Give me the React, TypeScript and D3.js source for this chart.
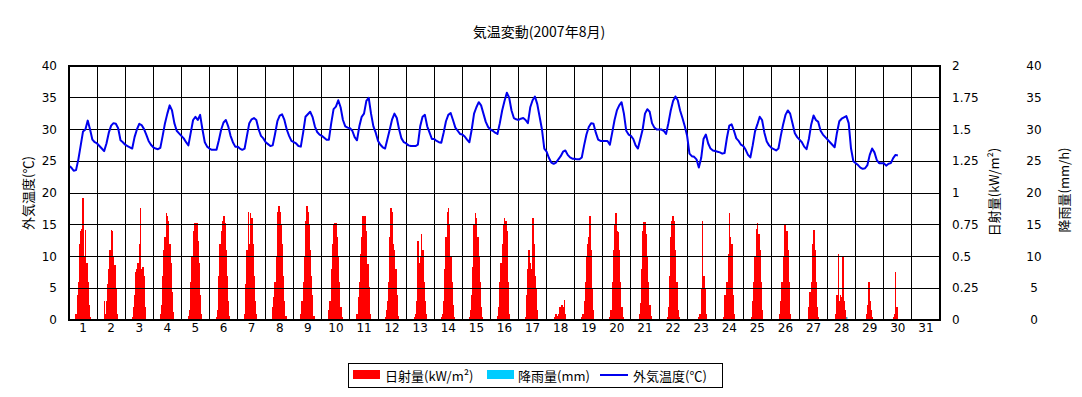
import React from 'react';
import * as d3 from 'd3';

// August 2007, one row per day, readings every 2 hours (0h, 2h, ... 22h)
const tempHours = [0, 2, 4, 6, 8, 10, 12, 14, 16, 18, 20, 22];
const temperature: number[][] = [
  [24.3, 24.0, 23.5, 23.6, 25.3, 27.5, 29.7, 30.0, 31.4, 30.0, 28.4, 28.0],
  [27.8, 27.4, 27.0, 26.6, 27.8, 29.5, 30.6, 31.0, 30.9, 30.2, 28.3, 28.0],
  [27.6, 27.4, 27.2, 27.0, 28.8, 30.0, 30.9, 30.7, 30.1, 29.2, 28.2, 27.6],
  [27.2, 27.0, 26.9, 27.1, 29.0, 31.0, 32.5, 33.8, 33.0, 31.0, 29.8, 29.4],
  [29.0, 28.6, 28.0, 27.5, 29.5, 31.5, 32.0, 31.5, 32.3, 30.0, 28.0, 27.3],
  [27.0, 26.8, 26.8, 26.8, 28.3, 30.0, 31.1, 31.5, 30.5, 29.0, 28.0, 27.3],
  [27.3, 27.0, 26.8, 27.0, 29.0, 31.0, 31.6, 31.8, 31.5, 30.0, 29.0, 28.6],
  [28.0, 27.7, 27.4, 27.5, 29.3, 31.3, 32.2, 32.4, 31.5, 30.0, 29.0, 28.2],
  [28.0, 27.8, 27.4, 27.3, 29.5, 32.0, 32.4, 32.8, 32.0, 30.5, 29.6, 29.2],
  [29.0, 28.7, 28.4, 28.4, 31.0, 33.2, 33.6, 34.6, 33.5, 31.5, 30.5, 30.3],
  [30.2, 29.8, 28.8, 28.3, 30.5, 32.0, 32.5, 34.5, 35.0, 32.5, 30.5, 29.5],
  [28.2, 27.6, 27.2, 27.0, 28.5, 30.0, 31.6, 32.5, 31.8, 30.0, 28.6, 28.0],
  [27.8, 27.5, 27.4, 27.4, 27.4, 27.6, 30.5, 32.0, 32.3, 30.5, 29.5, 28.5],
  [28.5, 28.2, 28.0, 27.9, 29.5, 31.3, 32.3, 32.6, 31.5, 30.3, 29.8, 29.3],
  [29.2, 28.9, 28.4, 28.0, 30.0, 32.5, 33.5, 34.3, 33.8, 32.5, 31.2, 30.4],
  [30.0, 29.8, 29.5, 29.3, 31.0, 33.0, 34.5, 35.8, 35.0, 33.0, 31.8, 31.6],
  [31.5, 31.7, 31.8, 31.5, 31.0, 33.5, 34.6, 35.2, 34.0, 32.0, 30.0, 27.0],
  [26.5, 25.5, 24.8, 24.6, 24.8, 25.3, 25.8, 26.5, 26.7, 26.0, 25.6, 25.4],
  [25.4, 25.3, 25.3, 25.6, 27.5, 29.2, 30.4, 31.0, 30.9, 29.5, 28.4, 28.2],
  [28.2, 28.2, 28.2, 27.6, 29.5, 31.5, 33.0, 33.8, 34.3, 32.5, 29.8, 29.2],
  [29.0, 28.5, 27.5, 27.0, 28.5, 30.0, 32.5, 33.2, 32.8, 31.0, 30.3, 30.0],
  [30.0, 30.0, 29.8, 29.3, 31.0, 33.0, 34.5, 35.2, 34.6, 33.0, 31.8, 30.5],
  [29.0, 26.2, 25.8, 25.7, 25.3, 24.0, 25.5, 28.5, 29.2, 27.8, 27.0, 26.7],
  [26.6, 26.5, 26.4, 26.2, 26.3, 28.7, 30.6, 30.8, 29.8, 28.6, 28.2, 27.6],
  [27.4, 26.8, 26.0, 25.6, 27.5, 29.7, 30.8, 32.0, 31.5, 29.5, 28.1, 27.5],
  [27.1, 26.9, 26.7, 27.0, 29.0, 30.8, 32.3, 33.0, 32.5, 31.0, 29.4, 28.8],
  [28.4, 28.0, 27.3, 26.9, 28.5, 30.8, 32.2, 31.5, 31.2, 29.8, 29.2, 28.8],
  [28.4, 28.0, 27.6, 27.2, 29.5, 31.3, 31.7, 31.9, 32.1, 31.0, 27.0, 25.0],
  [24.7, 24.4, 24.0, 23.8, 23.9, 24.4, 26.0, 27.0, 26.4, 25.2, 24.7, 24.7],
  [24.7, 24.3, 24.6, 24.7, 25.5, 26.0, 25.9],
];

// hourly solar radiation (kW/m2), 5h .. 18h, one row per day
const solarFirstHour = 5;
const solar: number[][] = [
  [0, 0.05, 0.2, 0.3, 0.6, 0.7, 0.72, 0.96, 0.5, 0.71, 0.45, 0.3, 0.12, 0.02],
  [0, 0.15, 0.05, 0.15, 0.28, 0.4, 0.55, 0.71, 0.7, 0.5, 0.43, 0.25, 0.05, 0],
  [0, 0.02, 0.1, 0.2, 0.38, 0.4, 0.45, 0.6, 0.88, 0.4, 0.42, 0.35, 0.1, 0],
  [0, 0.05, 0.12, 0.35, 0.55, 0.65, 0.84, 0.82, 0.78, 0.6, 0.45, 0.22, 0.06, 0],
  [0, 0.03, 0.08, 0.3, 0.5, 0.7, 0.76, 0.76, 0.76, 0.62, 0.45, 0.2, 0.05, 0],
  [0, 0.02, 0.08, 0.35, 0.6, 0.7, 0.78, 0.82, 0.76, 0.55, 0.35, 0.15, 0.03, 0],
  [0, 0.05, 0.28, 0.55, 0.85, 0.6, 0.84, 0.8, 0.6, 0.35, 0.15, 0.05, 0, 0],
  [0, 0.1, 0.18, 0.3, 0.5, 0.85, 0.9, 0.85, 0.75, 0.6, 0.35, 0.15, 0.03, 0],
  [0, 0.05, 0.15, 0.3, 0.5, 0.78, 0.9, 0.85, 0.75, 0.55, 0.35, 0.2, 0.03, 0],
  [0, 0.08, 0.15, 0.4, 0.6, 0.75, 0.76, 0.76, 0.65, 0.5, 0.3, 0.1, 0.02, 0],
  [0, 0.05, 0.18, 0.3, 0.52, 0.65, 0.82, 0.82, 0.82, 0.7, 0.44, 0.26, 0.05, 0],
  [0, 0.02, 0.08, 0.15, 0.3, 0.65, 0.88, 0.85, 0.6, 0.55, 0.4, 0.2, 0.03, 0],
  [0, 0, 0.02, 0.05, 0.15, 0.62, 0.45, 0.5, 0.68, 0.55, 0.3, 0.15, 0.05, 0],
  [0, 0.02, 0.05, 0.15, 0.4, 0.65, 0.85, 0.88, 0.75, 0.5, 0.3, 0.12, 0.02, 0],
  [0, 0.02, 0.08, 0.2, 0.42, 0.75, 0.84, 0.8, 0.65, 0.5, 0.3, 0.1, 0.02, 0],
  [0, 0.03, 0.1, 0.3, 0.45, 0.6, 0.75, 0.8, 0.78, 0.7, 0.3, 0.05, 0, 0],
  [0, 0.02, 0.2, 0.4, 0.55, 0.45, 0.4, 0.8, 0.6, 0.35, 0.25, 0.08, 0, 0],
  [0, 0, 0.02, 0.05, 0.03, 0.05, 0.1, 0.08, 0.12, 0.1, 0.16, 0.05, 0, 0],
  [0, 0.02, 0.05, 0.15, 0.3, 0.5, 0.6, 0.65, 0.82, 0.55, 0.25, 0.08, 0, 0],
  [0, 0.02, 0.08, 0.3, 0.55, 0.75, 0.84, 0.7, 0.69, 0.55, 0.3, 0.1, 0.02, 0],
  [0, 0, 0.05, 0.13, 0.4, 0.7, 0.77, 0.77, 0.68, 0.5, 0.3, 0.12, 0.03, 0],
  [0, 0, 0.02, 0.1, 0.35, 0.65, 0.78, 0.82, 0.78, 0.55, 0.3, 0.08, 0.02, 0],
  [0, 0, 0, 0, 0, 0.02, 0.05, 0.25, 0.78, 0.35, 0.25, 0.05, 0, 0],
  [0, 0, 0.02, 0.2, 0.15, 0.3, 0.52, 0.84, 0.65, 0.6, 0.2, 0.05, 0, 0],
  [0, 0, 0.02, 0.15, 0.3, 0.5, 0.72, 0.76, 0.68, 0.55, 0.3, 0.08, 0, 0],
  [0, 0, 0.05, 0.15, 0.3, 0.5, 0.75, 0.75, 0.7, 0.55, 0.3, 0.05, 0, 0],
  [0, 0, 0, 0.1, 0.22, 0.3, 0.6, 0.71, 0.55, 0.3, 0.1, 0.02, 0, 0],
  [0, 0, 0.05, 0.2, 0.52, 0.15, 0.2, 0.18, 0.5, 0.15, 0.08, 0.02, 0, 0],
  [0, 0, 0, 0, 0.05, 0.12, 0.3, 0.15, 0.08, 0.02, 0, 0, 0, 0],
  [0, 0, 0, 0.02, 0.05, 0.38, 0.1, 0, 0, 0, 0, 0, 0, 0],
];

// rainfall (mm/h): only one tiny reading in the month
const rainDay = [28];
const rainHour = [16];
const rainValue = [0.3];

const dayLabels = d3.range(1, 32).map(String);
const tempTicks = d3.range(0, 41, 5);
const solarTicks = ['0', '0.25', '0.5', '0.75', '1', '1.25', '1.5', '1.75', '2'];
const rainTicks = d3.range(0, 41, 5);

const FONT = '"DejaVu Sans", "Noto Sans CJK JP", sans-serif';
const JFONT = '"Noto Sans CJK JP", sans-serif';

const App = () => {
  const left = 69;
  const right = 940;
  const top = 66;
  const bottom = 320;

  const x = d3.scaleLinear().domain([0, 31]).range([left, right]);
  const yT = d3.scaleLinear().domain([0, 40]).range([bottom, top]);
  const yS = d3.scaleLinear().domain([0, 2]).range([bottom, top]);
  const yR = d3.scaleLinear().domain([0, 40]).range([bottom, top]);

  const tempPoints: [number, number][] = [];
  temperature.forEach((row, d) => {
    row.forEach((v, i) => tempPoints.push([d + tempHours[i] / 24, v]));
  });
  const line = d3
    .line<[number, number]>()
    .x((p) => x(p[0]))
    .y((p) => yT(p[1]));

  const hourW = x(1 / 24) - x(0);

  return (
    <svg
      width={1082}
      height={397}
      style={{ position: 'absolute', left: 0, top: 0, background: '#fff' }}
    >
      <text x={539} y={37} textAnchor="middle" fontSize={14} fontFamily={JFONT}>
        気温変動(2007年8月)
      </text>

      {/* solar bars */}
      <g fill="#ff0000" shapeRendering="crispEdges">
        {solar.map((row, d) =>
          row.map((v, i) =>
            v > 0 ? (
              <rect
                key={`${d}-${i}`}
                x={x(d + (solarFirstHour + i) / 24) - hourW / 2}
                width={hourW + 0.4}
                y={yS(v)}
                height={yS(0) - yS(v)}
              />
            ) : null
          )
        )}
      </g>
      <g fill="#00ccff">
        {rainValue.map((v, i) => (
          <rect
            key={i}
            x={x(rainDay[i] - 1 + rainHour[i] / 24)}
            width={1.2}
            y={yR(v) - 1}
            height={yR(0) - yR(v) + 1}
          />
        ))}
      </g>

      {/* grid */}
      <g stroke="#000" strokeWidth={1} shapeRendering="crispEdges">
        {tempTicks.slice(1, -1).map((t) => (
          <line key={t} x1={left} x2={right} y1={yT(t)} y2={yT(t)} />
        ))}
        {d3.range(1, 31).map((d) => (
          <line key={d} x1={x(d)} x2={x(d)} y1={top} y2={bottom} />
        ))}
      </g>

      <path d={line(tempPoints) || ''} fill="none" stroke="#0000ee" strokeWidth={2} strokeLinejoin="round" />

      <rect
        x={left}
        y={top}
        width={right - left}
        height={bottom - top}
        fill="none"
        stroke="#000"
        strokeWidth={2}
      />

      {/* axis labels */}
      <g fontFamily={FONT} fontSize={12} fill="#000">
        {tempTicks.map((t) => (
          <text key={t} x={57} y={yT(t)} textAnchor="end" dominantBaseline="central">
            {t}
          </text>
        ))}
        {solarTicks.map((t) => (
          <text key={t} x={952} y={yS(+t)} dominantBaseline="central">
            {t}
          </text>
        ))}
        {rainTicks.map((t) => (
          <text key={t} x={1034} y={yR(t)} textAnchor="middle" dominantBaseline="central">
            {t}
          </text>
        ))}
        {dayLabels.map((l, i) => (
          <text key={l} x={x(i + 0.5)} y={328} textAnchor="middle" dominantBaseline="central">
            {l}
          </text>
        ))}
      </g>

      <g fontFamily={JFONT} fontSize={13} fill="#000">
        <text transform="translate(27,193) rotate(-90)" textAnchor="middle" dominantBaseline="central">
          外気温度(℃)
        </text>
        <text transform="translate(993,192) rotate(-90)" textAnchor="middle" dominantBaseline="central">
          日射量(kW/m²)
        </text>
        <text transform="translate(1063,190) rotate(-90)" textAnchor="middle" dominantBaseline="central">
          降雨量(mm/h)
        </text>
      </g>

      {/* legend */}
      <g fontFamily={JFONT} fontSize={13}>
        <rect x={348.5} y={363.5} width={374} height={24} fill="#fff" stroke="#000" />
        <rect x={353} y={370} width={27} height={9} fill="#ff0000" />
        <text x={385} y={375} dominantBaseline="central">日射量(kW/m²)</text>
        <rect x={487} y={370} width={27} height={9} fill="#00ccff" />
        <text x={518} y={375} dominantBaseline="central">降雨量(mm)</text>
        <line x1={600} x2={628} y1={375} y2={375} stroke="#0000ee" strokeWidth={2} />
        <text x={633} y={375} dominantBaseline="central">外気温度(℃)</text>
      </g>
    </svg>
  );
};

export default App;
